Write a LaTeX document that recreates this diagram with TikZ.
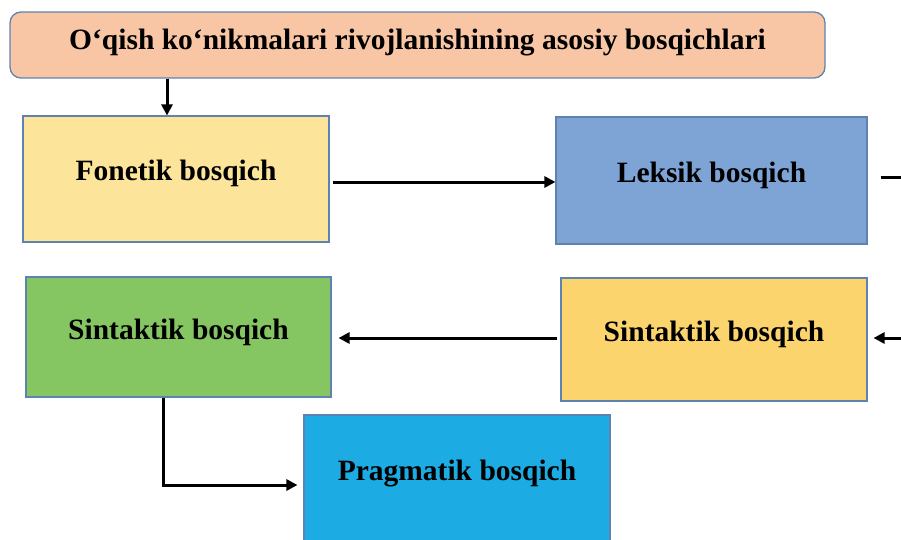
\documentclass[tikz,border=0pt]{standalone}
\usepackage{fontspec}
\setmainfont{Liberation Serif}
\usetikzlibrary{arrows.meta}
\definecolor{ttlfill}{HTML}{F8C6A5}
\definecolor{edgeblue}{HTML}{5F83B0}
\definecolor{fonfill}{HTML}{FDE49B}
\definecolor{lekfill}{HTML}{7EA4D6}
\definecolor{ylwfill}{HTML}{FBD46E}
\definecolor{grnfill}{HTML}{86C662}
\definecolor{prgfill}{HTML}{1CACE3}
\tikzset{
  stagebox/.style={draw=edgeblue, line width=1.1pt, rectangle, inner sep=0pt,
    minimum width=306pt, minimum height=126pt,
    font=\fontsize{29.5pt}{32pt}\selectfont\bfseries,
    text height=22pt, text depth=18pt},
  titlebox/.style={draw=edgeblue, line width=1.3pt, rectangle, rounded corners=11pt,
    inner sep=0pt, fill=ttlfill, minimum width=815pt, minimum height=66pt,
    font=\fontsize{29.5pt}{31pt}\selectfont\bfseries,
    text height=22pt, text depth=12pt},
  flow/.style={line width=3pt, draw=black,
    -{Triangle[length=11pt,width=11pt]}},
  plainline/.style={line width=3pt, draw=black}
}
\begin{document}
\begin{tikzpicture}[x=1pt,y=-1pt]
\useasboundingbox (0,0) rectangle (901,540);
\node[titlebox] (ttl) at (417.5,45) {O‘qish ko‘nikmalari rivojlanishining asosiy bosqichlari};
\node[stagebox, fill=fonfill, minimum width=306pt, minimum height=126pt] (fon) at (176,179) {Fonetik bosqich};
\node[stagebox, fill=lekfill, minimum width=311pt, minimum height=127pt] (lek) at (711.5,180.5) {Leksik bosqich};
\node[stagebox, fill=ylwfill, minimum width=306pt, minimum height=123pt] (ylw) at (714,339.5) {Sintaktik bosqich};
\node[stagebox, fill=grnfill, minimum width=305pt, minimum height=120pt] (grn) at (178.5,337) {Sintaktik bosqich};
\node[stagebox, fill=prgfill, minimum width=306pt, minimum height=126pt] (prg) at (457,478) {Pragmatik bosqich};
\coordinate (lekR) at (905,177);
\coordinate (ylwR) at (905,338);
% title -> fonetik
\draw[flow] ([xshift=-9pt]fon.north |- ttl.south) -- ([xshift=-9pt]fon.north);
% fonetik -> leksik
\draw[flow, shorten <=3pt] ([yshift=-3pt]fon.east) -- ([yshift=-3pt]fon.east -| lek.west);
% leksik -> off page
\draw[plainline] ([xshift=13pt]lek.east |- lekR) -- (lekR);
% off page -> yellow sintaktik
\draw[flow, shorten >=6pt] (ylwR) -- (ylwR -| ylw.east);
% yellow -> green
\draw[flow, shorten <=3pt, shorten >=7pt] ([yshift=1.5pt]ylw.west) -- ([yshift=1.5pt]ylw.west -| grn.east);
% green -> pragmatik
\draw[flow, shorten >=6pt] ([xshift=-15.5pt]grn.south) |- ([yshift=-7pt]prg.west);
\end{tikzpicture}
\end{document}
